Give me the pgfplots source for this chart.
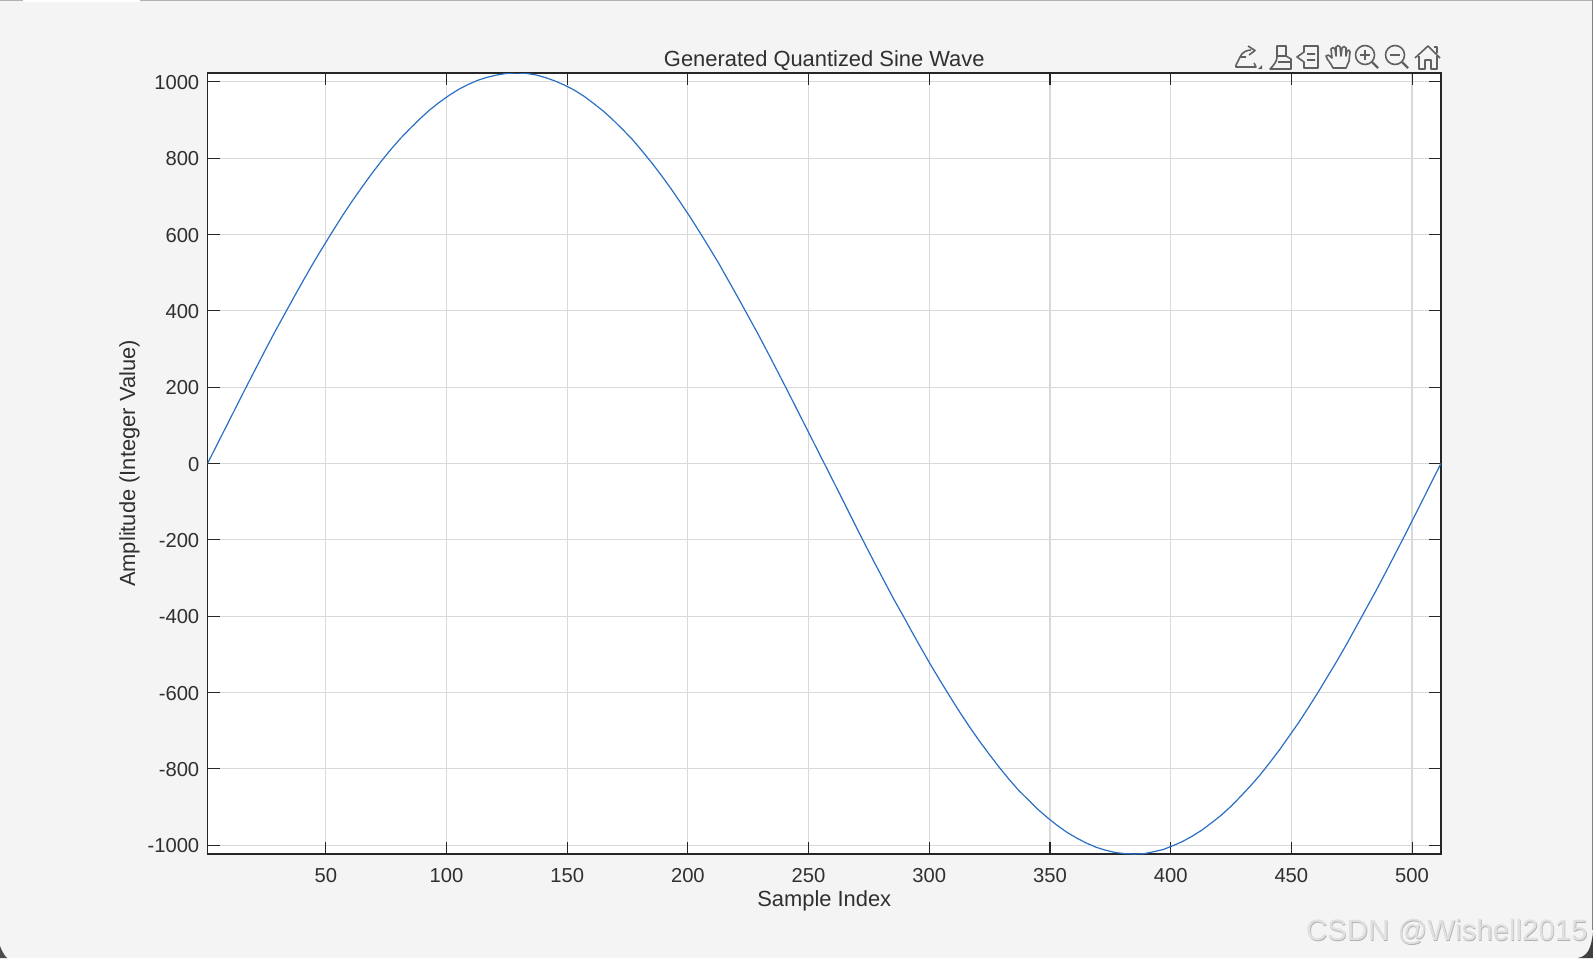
\documentclass[border=0pt]{standalone}
\usepackage{fontspec}
\setmainfont{Liberation Sans}
\usepackage{pgfplots}
\pgfplotsset{compat=1.18}

\definecolor{winbg}{HTML}{F4F4F4}
\definecolor{axcol}{HTML}{262626}
\definecolor{txtcol}{HTML}{303030}
\definecolor{gridcol}{HTML}{D9D9D9}
\definecolor{linecol}{HTML}{2A6FC4}
\definecolor{iconcol}{HTML}{606060}

\pgfplotstableread{
x y
1 0
5 50
9 100
13 150
17 200
21 249
25 298
29 346
33 392
37 438
41 483
45 527
49 569
53 610
57 650
61 688
65 724
69 759
73 792
77 823
81 852
85 878
89 903
93 926
97 946
101 964
105 980
109 993
113 1004
117 1012
121 1018
125 1022
129 1023
133 1022
137 1018
141 1011
145 1002
149 991
153 978
157 962
161 943
165 923
169 900
173 875
177 849
181 819
185 788
189 755
193 720
197 683
201 645
205 605
209 564
213 522
217 477
221 432
225 386
229 340
233 292
237 243
241 194
245 144
249 94
253 44
257 -6
261 -56
265 -106
269 -157
273 -207
277 -256
281 -304
285 -352
289 -397
293 -443
297 -488
301 -532
305 -574
309 -615
313 -655
317 -693
321 -729
325 -763
329 -796
333 -827
337 -856
341 -881
345 -906
349 -928
353 -948
357 -966
361 -981
365 -994
369 -1005
373 -1013
377 -1019
381 -1022
385 -1023
389 -1022
393 -1017
397 -1011
401 -1001
405 -990
409 -976
413 -960
417 -941
421 -921
425 -898
429 -872
433 -845
437 -816
441 -784
445 -751
449 -715
453 -679
457 -640
461 -600
465 -558
469 -516
473 -472
477 -426
481 -380
485 -334
489 -286
493 -237
497 -188
501 -138
505 -88
509 -37
512 0
}\sinedata

\begin{document}
\begin{tikzpicture}[x=0.5pt,y=-0.5pt]
\path[use as bounding box] (0,0) rectangle (1593,958);
% window behind the plot
\fill[winbg] (0,0) rectangle (1593,958);
\fill[white] (23,0) rectangle (140,2);
\draw[black!30,line width=0.8pt] (0,0.5) -- (23,0.5) (140,0.5) -- (1593,0.5);
\draw[black!50,line width=0.6pt] (1592.3,0) -- (1592.3,930);
\fill[black!75] (1593,932) -- (1593,958) -- (1578,958) .. controls (1587,956) and (1591,950) .. cycle;
\fill[black!70] (0,946) -- (0,958) -- (7,958) .. controls (4,955) and (2,951) .. cycle;

\begin{axis}[
    at={(207.5pt*0.5,-854pt*0.5)},
    anchor=south west,
    scale only axis,
    width=616.75pt,
    height=390.5pt,
    xmin=1, xmax=512,
    ymin=-1023, ymax=1023,
    xtick={50,100,...,500},
    ytick={-1000,-800,...,1000},
    tick align=inside,
    ticks=major,
    major tick length=6pt,
    tick style={axcol,line width=0.55pt},
    axis line style={axcol,line width=0.55pt},
    grid=major,
    major grid style={gridcol,line width=0.6pt},
    axis background/.style={fill=white},
    /pgf/number format/assume math mode=true,
    /pgf/number format/1000 sep={},
    tick label style={font=\fontsize{10.1}{12}\selectfont,text=txtcol},
    xticklabel style={yshift=-3.8pt},
    yticklabel style={xshift=-0.6pt,yshift=-0.4pt},
    label style={font=\fontsize{10.95}{13}\selectfont,text=txtcol},
    xlabel style={yshift=2.9pt},
    ylabel style={yshift=-2.9pt},
    title style={font=\fontsize{10.95}{13}\selectfont,text=txtcol,yshift=-8.2pt},
    title={Generated Quantized Sine Wave},
    xlabel={Sample Index},
    ylabel={Amplitude (Integer Value)},
]
\addplot[color=linecol,line width=0.6pt,no marks] table[x=x,y=y] {\sinedata};
\end{axis}

% toolbar icons
\begin{scope}[iconcol,line width=0.8pt,line join=round]
% pan-style export icon
\draw (1236,65) -- (1240,57) -- (1246,57) (1240,57) .. controls (1242,52) and (1247,50) .. (1251,50)
      (1248,46) -- (1255,50.5) -- (1249,55) (1236,65) -- (1236,67) -- (1256,67) -- (1254,63);
\fill (1258,69) -- (1262,69) -- (1262,65) -- cycle;
% brush
\draw (1277,46) -- (1286,46) -- (1286,56) -- (1291,59) -- (1291,69) -- (1270,69)
      .. controls (1274,65) and (1277,61) .. (1277,57) -- cycle (1277,56) -- (1286,56)
      (1278,62) -- (1290,62);
% data tips
\draw (1304,46) -- (1318,46) -- (1318,68) -- (1304,68) -- (1304,62) -- (1297,57) -- (1304,52) -- cycle
      (1307,54) -- (1315,54) (1307,60) -- (1315,60);
% hand
\draw (1333,68) .. controls (1331,63) and (1327,60) .. (1326,56) .. controls (1327,54) and (1329,55) .. (1332,58)
      -- (1331,49) .. controls (1332,47) and (1334,47) .. (1335,49) -- (1336,56)
      -- (1336,47) .. controls (1337,45) and (1339,45) .. (1340,47) -- (1341,56)
      -- (1342,48) .. controls (1343,46) and (1345,46) .. (1346,48) -- (1346,56)
      -- (1347,51) .. controls (1348,49) and (1350,50) .. (1350,52) -- (1349,61) -- (1346,68) -- cycle;
% zoom in
\draw (1365,55) circle[radius=9.5];
\draw (1360,55) -- (1370,55) (1365,50) -- (1365,60);
\draw[line width=1.1pt] (1372,62) -- (1378,68);
% zoom out
\draw (1395,55) circle[radius=9.5];
\draw (1390,55) -- (1400,55);
\draw[line width=1.1pt] (1402,62) -- (1408,68);
% home
\draw (1415,58) -- (1428,46) -- (1440,58) (1419,56) -- (1419,69) -- (1425,69) -- (1425,60) -- (1431,60) -- (1431,69) -- (1437,69) -- (1437,56)
      (1434,47) -- (1437,47) -- (1437,53);
\end{scope}

% watermark
\node[anchor=east,inner sep=0pt,text=black!30,font=\fontsize{14.7}{17}\selectfont] at (1588.6,932.5) {CSDN @Wishell2015};
\node[anchor=east,inner sep=0pt,text=black!12,font=\fontsize{14.7}{17}\selectfont] at (1588,932) {CSDN @Wishell2015};
\end{tikzpicture}
\end{document}
